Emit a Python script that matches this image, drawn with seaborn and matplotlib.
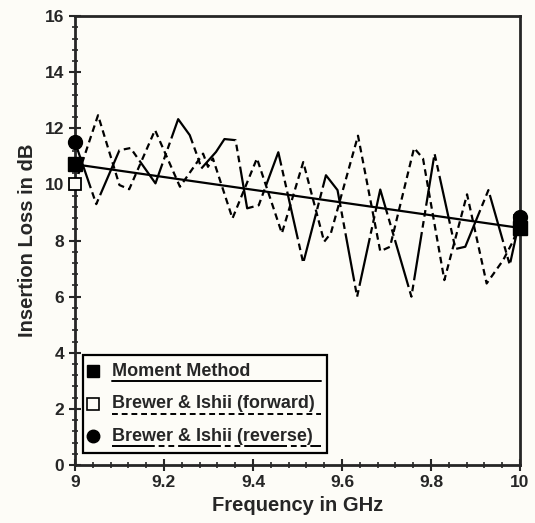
import numpy as np
import pandas as pd
import seaborn as sns
import matplotlib.pyplot as plt
from matplotlib.ticker import AutoMinorLocator, FixedLocator
from matplotlib.patches import Rectangle

# data
freq_moment = [9.0, 10.0]
loss_moment = [10.72, 8.45]

freq_forward = [9.000, 9.052, 9.100, 9.122, 9.180, 9.236, 9.288, 9.299, 9.310, 9.354,
                9.409, 9.465, 9.513, 9.560, 9.575, 9.636, 9.686, 9.708, 9.762, 9.782,
                9.830, 9.881, 9.925, 9.962, 9.985, 10.000]
loss_forward = [10.00, 12.47, 9.98, 9.83, 11.94, 9.92, 11.10, 10.63, 10.93, 8.79,
                10.93, 8.26, 10.80, 7.96, 8.26, 11.74, 7.62, 7.78, 11.30, 10.93,
                6.59, 9.65, 6.47, 7.30, 8.00, 8.70]

freq_reverse = [9.000, 9.048, 9.100, 9.125, 9.181, 9.232, 9.258, 9.277, 9.284, 9.317,
                9.336, 9.361, 9.387, 9.413, 9.457, 9.513, 9.564, 9.590, 9.634, 9.686,
                9.756, 9.808, 9.855, 9.877, 9.929, 9.977, 10.000]
loss_reverse = [11.52, 9.30, 11.22, 11.30, 10.04, 12.33, 11.76, 10.93, 10.57, 11.16,
                11.62, 11.58, 9.15, 9.26, 11.15, 7.20, 10.33, 9.80, 6.00, 9.82,
                6.00, 11.10, 7.70, 7.78, 9.80, 7.13, 8.80]

# end-point markers
mark_freq = [9.0, 10.0]
mark_moment = [10.72, 8.45]
mark_forward = [10.00, 8.70]
mark_reverse = [11.52, 8.85]

labels = ["Moment Method", "Brewer & Ishii (forward)", "Brewer & Ishii (reverse)"]

x_ticks = [9.0, 9.2, 9.4, 9.6, 9.8, 10.0]
x_ticklabels = ["9", "9.2", "9.4", "9.6", "9.8", "10"]
y_ticks = [0, 2, 4, 6, 8, 10, 12, 14, 16]

sns.set_style("ticks")
plt.rcParams['font.family'] = ['Liberation Sans', 'DejaVu Sans']
plt.rcParams['font.weight'] = 'bold'

bg = "#fdfcf7"
fig = plt.figure(figsize=(5.35, 5.23), dpi=100, facecolor=bg)
ax = fig.add_axes([0.140, 0.111, 0.832, 0.858], facecolor=bg)

dash_fwd = (0, (3, 2))
dash_rev = (0, (22, 2, 3, 2, 3, 2))

sns.lineplot(x=freq_moment, y=loss_moment, ax=ax, color="black", lw=1.6,
             estimator=None, sort=False)
sns.lineplot(x=freq_forward, y=loss_forward, ax=ax, color="black", lw=1.6,
             linestyle=dash_fwd, estimator=None, sort=False)
sns.lineplot(x=freq_reverse, y=loss_reverse, ax=ax, color="black", lw=1.6,
             linestyle=dash_rev, estimator=None, sort=False)

ax.plot(mark_freq, mark_forward, "s", ms=9, mfc=bg, mec="black", mew=1.3, clip_on=False, zorder=5)
ax.plot(mark_freq, mark_moment, "s", ms=10, color="black", clip_on=False, zorder=6)
ax.plot(mark_freq, mark_reverse, "o", ms=10, color="black", clip_on=False, zorder=6)

ax.set_xlim(9.0, 10.0)
ax.set_ylim(0, 16)
ax.xaxis.set_major_locator(FixedLocator(x_ticks))
ax.set_xticklabels(x_ticklabels)
ax.set_yticks(y_ticks)
ax.xaxis.set_minor_locator(AutoMinorLocator(5))
ax.yaxis.set_minor_locator(AutoMinorLocator(5))
ax.tick_params(which="major", direction="inout", length=9, width=1.5, labelsize=12.5, pad=3)
ax.tick_params(which="minor", direction="inout", length=5, width=1.2)
for lab in ax.get_xticklabels() + ax.get_yticklabels():
    lab.set_fontweight("bold")
for sp in ax.spines.values():
    sp.set_visible(True)
    sp.set_linewidth(2.0)

ax.set_xlabel("Frequency in GHz", fontsize=14.5, fontweight="bold", labelpad=4)
ax.set_ylabel("Insertion Loss in dB", fontsize=14.5, fontweight="bold", labelpad=6)

# hand-drawn legend box with underlines in the line styles
ax.add_patch(Rectangle((0.018, 0.027), 0.548, 0.218, transform=ax.transAxes,
                       fill=False, lw=1.6, ec="black", zorder=7))
rows_y = [0.209, 0.136, 0.064]
under_y = [0.186, 0.114, 0.042]
styles = ["-", dash_fwd, dash_rev]
for lab, ry, uy, st, mk in zip(labels, rows_y, under_y, styles, ["s", "s", "o"]):
    if lab.endswith("(forward)"):
        ax.plot([0.041], [ry], mk, ms=9, mfc=bg, mec="black", mew=1.2, transform=ax.transAxes)
    else:
        ax.plot([0.041], [ry], mk, ms=9, color="black", transform=ax.transAxes)
    ax.text(0.083, ry, lab, transform=ax.transAxes, fontsize=13, fontweight="bold",
            va="center", ha="left")
    ax.plot([0.083, 0.554], [uy, uy], color="black", lw=1.4, linestyle=st,
            transform=ax.transAxes)

fig.savefig("out.png", dpi=100, facecolor=bg)
